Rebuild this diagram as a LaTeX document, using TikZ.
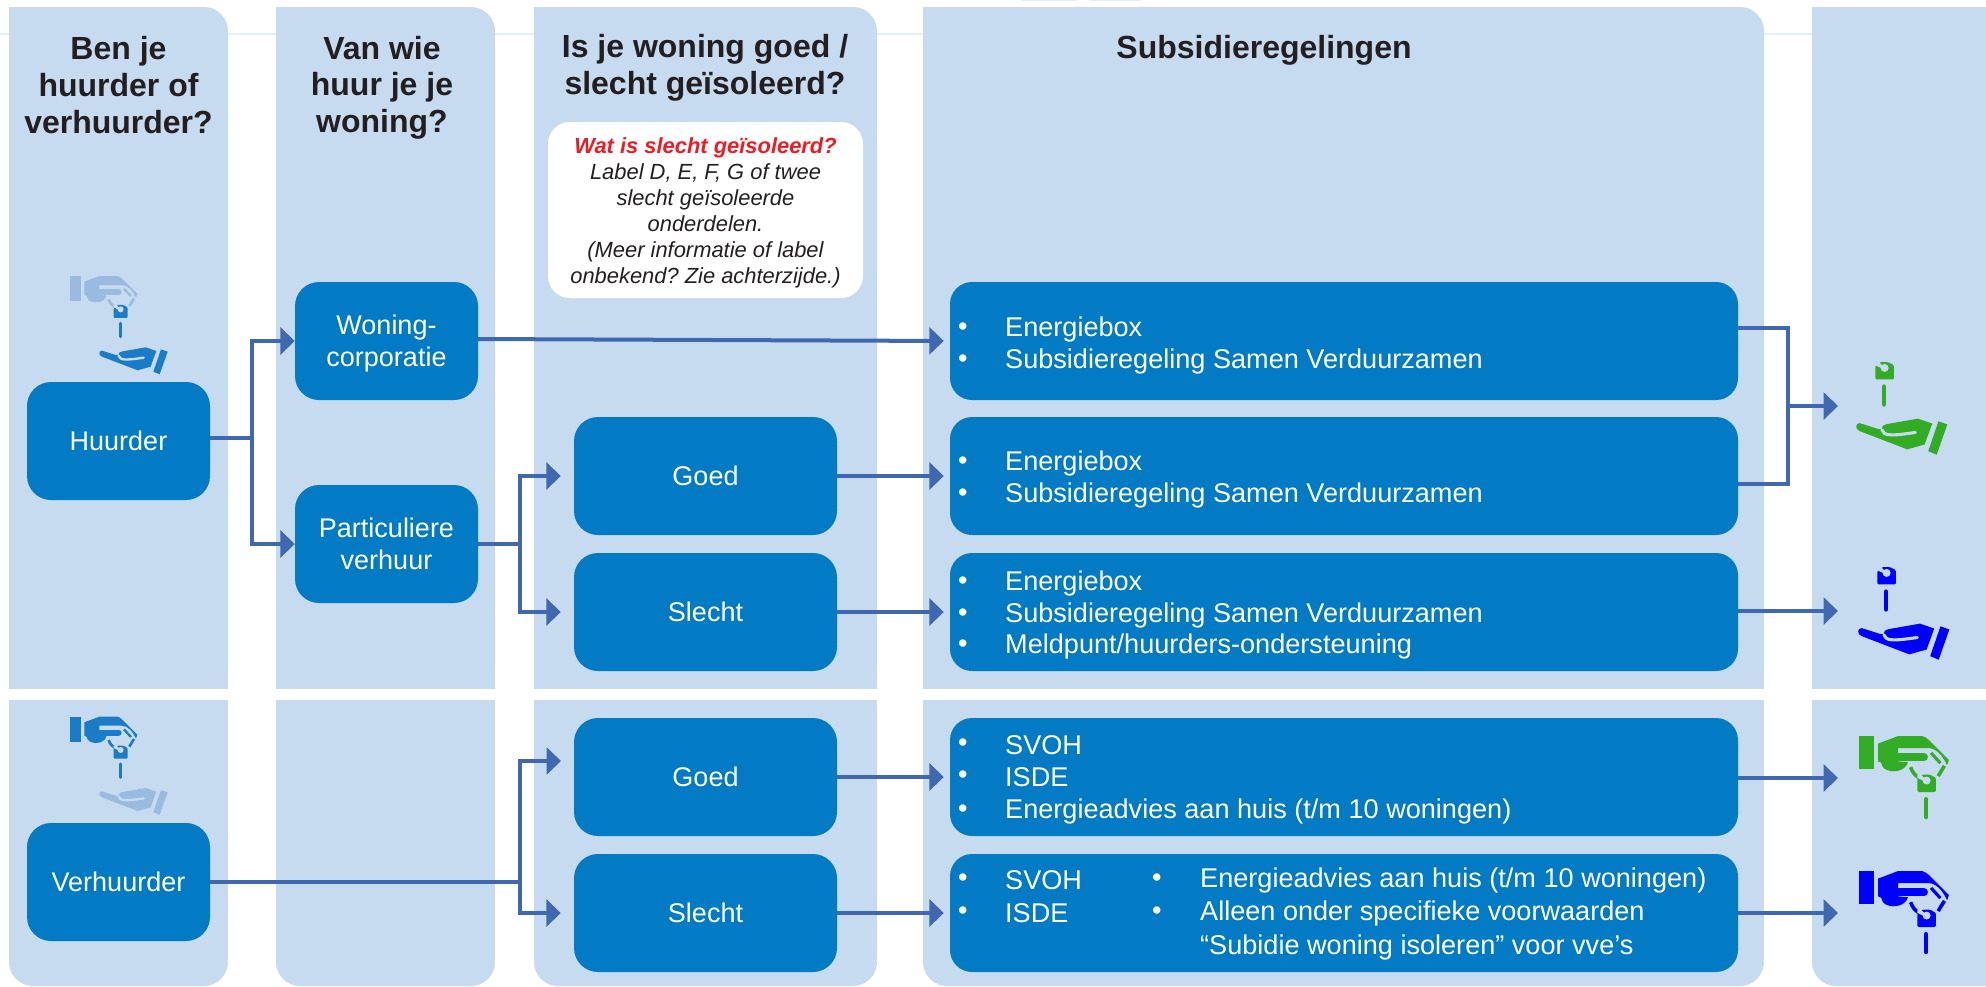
\documentclass[tikz,border=0pt]{standalone}
\usepackage{fontspec}
\setmainfont{Liberation Sans}
\frenchspacing
\usetikzlibrary{arrows.meta,calc}
\definecolor{panel}{HTML}{C6DBF0}
\definecolor{box}{HTML}{027AC4}
\definecolor{conn}{HTML}{3F68B1}
\definecolor{ink}{HTML}{231F20}
\definecolor{pale}{HTML}{9ABAE0}
\definecolor{keyblue}{HTML}{1A7CC6}
\definecolor{igreen}{HTML}{33AC25}
\definecolor{iblue}{HTML}{0000FF}
\definecolor{faint}{HTML}{E4EFF9}
\tikzset{
  x=1pt,y=-1pt,
  flow/.style={rounded corners=24pt,fill=box,text=white,font=\fontsize{27}{32}\selectfont,align=center,inner sep=0pt,minimum height=118pt},
  small/.style={flow,minimum width=183pt},
  mid/.style={flow,minimum width=263pt},
  big/.style={flow,minimum width=788pt,rounded corners=22pt},
  head/.style={font=\bfseries\fontsize{32}{36.6}\selectfont,text=ink,align=center,inner sep=0pt},
  link/.style={draw=conn,line width=4pt},
  arr/.style={link,-{Triangle[length=14.5pt,width=27pt]}},
  bl/.style={inner sep=0pt,text=white,font=\fontsize{27.1}{32}\selectfont,anchor=west},
  lab/.style={inner sep=0pt,text=white,font=\fontsize{27}{32}\selectfont,align=center},
}
% panels: #1 left #2 right
\newcommand{\colpanel}[2]{%
  \fill[panel,rounded corners=24pt] (#1,7) -- (#2,7) -- (#2,689) -- (#1,689) [sharp corners] -- cycle;
  \fill[panel] (#1,40) rectangle (#2,689);
  \fill[panel] (#1,700) rectangle (#2,960);
  \fill[panel,rounded corners=24pt] (#1,940) -- (#1,986) -- (#2,986) -- (#2,940) [sharp corners] -- cycle;
}
% icon parts, coordinates in 3x units; #1 x offset, #2 y offset, #3 scale, #4 colour
\newcommand{\iconhand}[4]{%
 \begin{scope}[shift={(#1,#2)},scale=#3]
  \fill[#4] (306,362) .. controls (296,362) and (295,376) .. (306,380) -- (413,421) -- (452,410) -- (469,363) -- (437,352)
     -- (368,364) .. controls (358,366) and (355,370) .. (355,376) -- (347,375) -- cycle;
  \fill[#4] (483,358) -- (503,365) -- (479,433) -- (460,425) -- cycle;
  \draw[panel,line width=#3*7pt,line cap=round] (356,377) .. controls (360,390) and (372,392) .. (431,383);
 \end{scope}}
\newcommand{\iconkey}[4]{%
 \begin{scope}[shift={(#1,#2)},scale=#3]
  \fill[#4,rounded corners=#3*3pt] (341,264) -- (341,234) -- (352,225) -- (370,225) -- (383,232) -- (383,264) -- cycle;
  \fill[panel] (362,238) circle[radius=9];
  \fill[panel] (341,232) -- (358,240) -- (358,234) -- (350,225) -- (341,225) -- cycle;
  \draw[#4,line width=#3*10pt,line cap=round] (361,280) -- (361,320);
 \end{scope}}
\newcommand{\icontop}[4]{%
 \begin{scope}[shift={(#1,#2)},scale=#3]
  \fill[#4] (210,138) rectangle (243,213);
  \fill[#4] (253,155) -- (298,138) -- (352,138) .. controls (362,140) and (370,150) .. (378,158)
     -- (412,192) -- (408,204) .. controls (400,185) and (385,165) .. (365,165) -- (298,165) -- (298,195)
     -- (320,197) .. controls (315,215) and (290,222) .. (272,214) .. controls (264,210) and (262,206) .. (260,198)
     -- (253,195) -- cycle;
  \draw[#4,line width=#3*18pt,line cap=round] (300,186) -- (356,186);
  \draw[#4,line width=#3*7pt] (372,176) -- (393,199);
  \draw[#4,line width=#3*8pt] (326,208) .. controls (330,220) and (336,226) .. (345,232);
  \draw[#4,line width=#3*8pt] (402,205) -- (388,228);
 \end{scope}}
\begin{document}
\begin{tikzpicture}
\useasboundingbox (0,0) rectangle (1986,986);
\fill[faint] (0,33) rectangle (1986,35);
\fill[faint] (1021,0) rectangle (1078,1);
\fill[faint] (1090,0) rectangle (1142,1);
\colpanel{9}{228}
\colpanel{276}{495}
\colpanel{534}{877}
\colpanel{923}{1764}
\colpanel{1812}{2010}
\fill[white] (0,689) rectangle (1986,700);

\node[head] (h1) at (118.5,85) {Ben je\\huurder of\\verhuurder?};
\node[head] (h2) at (382,87.5) {Van wie\\huur je je\\woning?};
\node[head] (h3) at (705,68) {Is je woning goed /\\slecht geïsoleerd?};
\node[head] (h4) at (1264,50) {Subsidieregelingen};

\node[fill=white,rounded corners=22pt,minimum width=315pt,minimum height=176pt,inner sep=0pt,align=center] (info) at (705.5,210) {};
\node[font=\itshape\fontsize{21.9}{26}\selectfont,text=ink,inner sep=0pt,align=center] (infotext) at (705.5,212.5)
  {{\bfseries\color[HTML]{ED1C24}Wat is slecht geïsoleerd?}\\Label D, E, F, G of twee\\slecht geïsoleerde\\onderdelen.\\(Meer informatie of label\\onbekend? Zie achterzijde.)};

\node[small] (huur) at (118.5,441) {Huurder};
\node[small] (verh) at (118.5,882) {Verhuurder};
\node[small] (wc) at (386.5,341) {};
\node[lab] (wct) at (386.5,344) {Woning-\\corporatie};
\node[small] (pv) at (386.5,544) {Particuliere\\verhuur};
\node[mid] (g1) at (705.5,476) {Goed};
\node[mid] (s1) at (705.5,612) {Slecht};
\node[mid] (g2) at (705.5,777) {Goed};
\node[mid] (s2) at (705.5,913) {Slecht};
\node[big] (b1) at (1344,341) {};
\node[big] (b2) at (1344,476) {};
\node[big] (b3) at (1344,612) {};
\node[big] (b4) at (1344,777) {};
\node[big] (b5) at (1344,913) {};

\foreach \nm/\yy/\tx in {a/329/Energiebox,b/361/Subsidieregeling Samen Verduurzamen,
  c/463/Energiebox,d/495/Subsidieregeling Samen Verduurzamen,
  e/583/Energiebox,f/615/Subsidieregeling Samen Verduurzamen,g/646/{Meldpunt/huurders-ondersteuning},
  h/745/SVOH,i/777/ISDE,j/811/{Energieadvies aan huis (t/m 10 woningen)},
  k/880/SVOH,l/913/ISDE}{
  \node[bl] (t\nm) at (1005,\yy) {\tx};
  \node[bl] (d\nm) at (958,\yy) {•};
}
\node[bl] (dm) at (1152,880) {•};
\node[bl] (tm) at (1200,880) {Energieadvies aan huis (t/m 10 woningen)};
\node[bl] (dn) at (1152,913) {•};
\node[bl] (tn) at (1200,913) {Alleen onder specifieke voorwaarden};
\node[bl] (to) at (1200,947) {“Subidie woning isoleren” voor vve’s};

% connectors
\coordinate (vh) at (252,438);
\draw[link] (huur.east |- vh) -- (vh);
\draw[arr] (vh) |- (wc.west);
\draw[arr] (vh) |- (pv.west);
\coordinate (vp) at (520,544);
\draw[link] (pv.east) -- (vp);
\draw[arr,shorten >=13pt] (vp) |- (g1.west);
\draw[arr,shorten >=13pt] (vp) |- (s1.west);
\coordinate (vv) at (520,882);
\coordinate (ag) at (574,761);
\draw[link] (verh.east) -- (vv);
\draw[arr,shorten >=13pt] (vv) |- (ag);
\draw[arr,shorten >=13pt] (vv) |- (s2.west);
\draw[arr,shorten >=6pt] (wc.east) ++(0,-2) -- (b1.west);
\draw[arr,shorten >=6pt] (g1.east) -- (b2.west);
\draw[arr,shorten >=6pt] (s1.east) -- (b3.west);
\draw[arr,shorten >=6pt] (g2.east) -- (b4.west);
\draw[arr,shorten >=6pt] (s2.east) -- (b5.west);
\coordinate (m) at (1788,406);
\coordinate (e1) at (1838,406);
\coordinate (e2) at (1838,611);
\coordinate (e3) at (1838,778);
\coordinate (e4) at (1838,913);
\draw[link] (b1.east |- 0,328) -| (m);
\draw[link] (b2.east |- 0,484) -| (m);
\draw[arr] (m) -- (e1);
\draw[arr] (b3.east |- e2) -- (e2);
\draw[arr] (b4.east |- e3) -- (e3);
\draw[arr] (b5.east |- e4) -- (e4);

% icons
\icontop{0}{230}{0.3333}{pale}
\iconkey{0}{230}{0.3333}{keyblue}
\iconhand{0}{230}{0.3333}{keyblue}
\icontop{0}{670.67}{0.3333}{keyblue}
\iconkey{0}{670.67}{0.3333}{keyblue}
\iconhand{0}{670.67}{0.3333}{pale}
\iconkey{1723.5}{262}{0.445}{igreen}
\iconhand{1723.5}{262}{0.445}{igreen}
\iconkey{1725.5}{467}{0.445}{iblue}
\iconhand{1725.5}{467}{0.445}{iblue}
\icontop{1765.5}{674.6}{0.445}{igreen}
\iconkey{1765.5}{674.6}{0.445}{igreen}
\icontop{1765.5}{809.6}{0.445}{iblue}
\iconkey{1765.5}{809.6}{0.445}{iblue}
\end{tikzpicture}
\end{document}
